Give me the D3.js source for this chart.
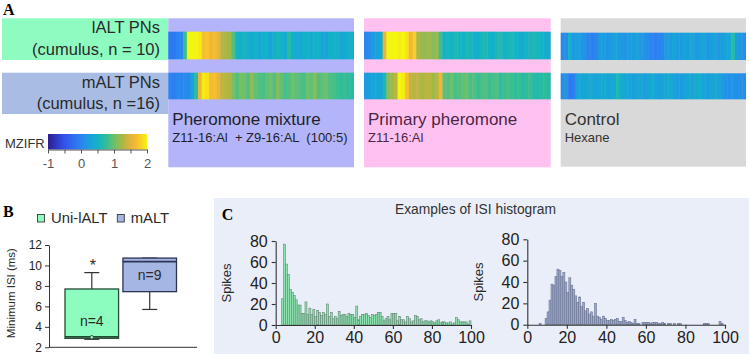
<!DOCTYPE html>
<html><head><meta charset="utf-8">
<script src="https://cdn.jsdelivr.net/npm/d3@7"></script>
<style>body{margin:0;background:#fff}svg{display:block}</style>
</head><body><svg id="c" width="749" height="354"></svg>
<script>
// ---------------- DATA ----------------
const rowLabels = [["lALT PNs", "(cumulus, n = 10)"], ["mALT PNs", "(cumulus, n =16)"]];
const stimTitles = ["Pheromone mixture", "Primary pheromone", "Control"];
const stimSubs = ["Z11-16:Al  + Z9-16:AL  (100:5)", "Z11-16:Al", "Hexane"];
// MZIFR heatmap strips (time bins), lALT row then mALT row
const mixL = [-0.1,-0.1,0.0,0.05,0.8,2.0,2.0,2.0,1.95,1.7,1.75,1.6,1.65,1.55,1.3,1.25,1.2,0.9,
  0.5,0.45,0.55,0.45,0.4,0.5,0.35,0.45,0.5,0.3,0.45,0.55,0.5,0.4,0.7,0.45,0.4,0.35,0.45,0.5,0.4,0.45,0.5,0.35,0.3,0.45,0.5,0.45,0.35,0.4,0.5,0.45];
const mixM = [0.0,-0.05,0.05,0.0,0.1,0.05,0.3,0.75,1.6,1.95,1.9,1.65,1.7,1.55,1.35,1.3,1.25,1.05,
  0.9,1.05,1.0,0.9,1.15,0.95,0.9,0.85,0.95,1.0,0.9,1.1,0.95,0.85,0.9,1.0,0.95,0.9,0.85,1.0,0.95,1.1,0.9,0.95,1.0,0.9,0.85,0.8,0.75,0.8,0.75,0.7];
const priL = [0.05,0.1,0.2,0.3,0.4,1.55,2.0,2.0,2.0,1.95,2.0,1.9,1.6,1.8,1.25,1.2,1.15,1.2,1.1,1.2,0.8,
  0.5,0.55,0.5,0.6,0.55,0.5,0.6,0.55,0.5,0.45,0.55,0.6,0.5,0.45,0.6,0.65,0.5,0.55,0.6,0.5,0.45,0.4,0.5,0.55,0.6,0.55,0.5,0.45,0.4];
const priM = [0.2,0.25,0.3,0.35,0.3,0.6,1.1,1.2,1.3,2.0,1.95,1.7,1.35,1.3,1.35,1.25,1.3,1.3,1.2,1.3,1.6,
  0.95,0.9,1.0,0.85,0.9,0.95,1.0,0.85,0.9,0.8,0.85,0.9,0.8,0.85,0.9,0.75,0.8,0.85,0.8,0.75,0.8,0.7,0.75,0.8,0.7,0.65,0.7,0.75,0.65];
const ctrlL = [0.05,0.1,0.5,0.2,0.25,0.2,0.15,0.0,-0.05,0.0,0.2,0.25,0.15,0.2,0.3,0.25,0.2,0.15,0.25,0.2,0.3,0.2,0.15,0.1,
  0.0,-0.05,0.0,0.05,0.25,0.2,0.3,0.25,0.2,0.3,0.25,0.35,0.2,0.25,0.3,0.2,0.25,0.3,0.2,0.25,0.3,0.35,0.7,0.25,0.2,0.1];
const ctrlM = [0.1,0.15,-0.1,-0.05,0.3,0.35,0.3,0.4,0.35,0.3,0.35,0.4,0.3,0.35,0.4,0.6,
  0.4,0.35,0.3,0.25,0.3,0.35,0.25,0.3,0.4,0.3,0.25,0.3,0.35,0.4,0.3,0.25,0.2,0.3,0.35,0.3,0.4,0.45,0.3,0.25,0.3,0.35,0.3,0.25,
  0.15,0.1,0.15,0.1,0.15,0.1];
const colorbarTicks = [-1, -0.5, 0, 0.5, 1, 1.5, 2];
const colorbarLabels = [-1, 0, 1, 2];

// Box plot (Minimum ISI, ms)
const boxGroups = ["Uni-lALT", "mALT"];
const boxMin = [2.78, 5.7];
const boxQ1 = [2.88, 7.44];
const boxMedian = [3.02, 10.37];
const boxQ3 = [7.7, 10.72];
const boxMax = [9.3, 10.72];
const boxMean = [2.98, null];
const boxN = [4, 9];
const boxYTicks = [2, 4, 6, 8, 10, 12];

// ISI histograms (1-ms bins)
const isiStartA = 3;
const isiCountsA = [25,77,58,48,34,31,28,24,19,19,
  11,11,22,10,16,10,15,8,14,12,
  9,12,10,20,8,12,6,8,6,13,
  9,10,10,8,11,10,10,7,18,5,
  8,10,10,11,9,7,10,9,10,12,
  12,8,4,6,8,5,11,11,11,4,
  8,5,5,3,8,6,3,4,9,8,
  5,6,3,4,4,3,4,3,2,4,
  5,2,3,3,2,2,3,1,2,7,
  5,3,3,3,3,1,4];
const isiStartB = 6;
const isiCountsB = [1,0,0,6,12,23,38,37,45,52,51,45,49,40,30,44,37,33,27,21,26,17,21,13,15,10,12,8,20,8,
  7,5,8,6,4,4,5,4,5,6,3,3,7,4,2,3,2,1,5,1,1,0,2,2,2,2,1,2,2,2,1,1,2,1,0,1,1,0,1,0,1,1,
  0,0,0,0,0,0,0,0,0,0,0,1,1,1,0,0,0,0,0,3,1,0];
const isiXTicks = [0, 20, 40, 60, 80, 100];
const isiYTicks = [0, 20, 40, 60, 80];

// ---------------- DRAW ----------------
const SANS = "'Liberation Sans', Arial, sans-serif";
const SERIF = "'Liberation Serif', 'Times New Roman', serif";
const svg = d3.select("#c");

const color = d3.scaleLinear()
  .domain([-1,-0.5,0,0.25,0.5,0.75,1,1.25,1.5,1.75,2])
  .range(["#2c1d8e","#3253f0","#2b84f0","#1a9fde","#12b3c6","#2ebd9a","#6cc16c","#aab742","#e4b23c","#fbc22d","#f5f60e"])
  .clamp(true);

// Panel A
svg.append("text").attr("x", 3).attr("y", 15).attr("font-family", SERIF).attr("font-weight", "bold")
  .attr("font-size", 16).text("A");

const labelFills = ["#8efcc0", "#a9bde4"];
const labelY = [[18.3, 60], [72.7, 114]];
labelY.forEach((yy, i) => {
  svg.append("rect").attr("x", 2).attr("y", yy[0]).attr("width", 166.3).attr("height", yy[1] - yy[0]).attr("fill", labelFills[i]);
  svg.append("text").attr("x", 160).attr("y", yy[0] + 15).attr("text-anchor", "end").attr("font-family", SANS)
    .attr("font-size", 16.5).attr("fill", "#2a2a2a").text(rowLabels[i][0]);
  svg.append("text").attr("x", 160).attr("y", yy[0] + 36.5).attr("text-anchor", "end").attr("font-family", SANS)
    .attr("font-size", 16.5).attr("fill", "#2a2a2a").text(rowLabels[i][1]);
});

const panelDefs = [
  {x0: 168.3, x1: 354, y0: 18.3, y1: 167.3, fill: "#b3b4fa", tc: "#1f1f2a", rows: [mixL, mixM], ry: [[31.7, 59.3], [72.7, 99.3]]},
  {x0: 364, x1: 550.7, y0: 18.3, y1: 167.3, fill: "#ffc2f0", tc: "#4a2648", rows: [priL, priM], ry: [[31.7, 59.3], [72.7, 99.3]]},
  {x0: 560.7, x1: 746, y0: 18.3, y1: 166.7, fill: "#d9d9d9", tc: "#333333", rows: [ctrlL, ctrlM], ry: [[32.7, 60], [73.3, 99.3]]}
];
panelDefs.forEach((p, pi) => {
  svg.append("rect").attr("x", p.x0).attr("y", p.y0).attr("width", p.x1 - p.x0).attr("height", p.y1 - p.y0).attr("fill", p.fill);
  p.rows.forEach((vals, ri) => {
    const xs = d3.scaleLinear().domain([0, vals.length]).range([p.x0, p.x1]);
    svg.append("g").selectAll("rect").data(vals).join("rect")
      .attr("x", (d, i) => xs(i)).attr("width", (d, i) => xs(i + 1) - xs(i) + (i < vals.length - 1 ? 0.4 : 0))
      .attr("y", p.ry[ri][0]).attr("height", p.ry[ri][1] - p.ry[ri][0])
      .attr("fill", d => color(d));
  });
  svg.append("text").attr("x", p.x0 + 4).attr("y", 125).attr("font-family", SANS).attr("font-size", 17)
    .attr("fill", p.tc).text(stimTitles[pi]);
  svg.append("text").attr("x", p.x0 + 4).attr("y", 142).attr("font-family", SANS).attr("font-size", 13)
    .attr("fill", p.tc).style("white-space", "pre").attr("xml:space", "preserve").text(stimSubs[pi]);
});

// Colorbar
const cbx = d3.scaleLinear().domain([-1, 2]).range([48, 147]);
const grad = svg.append("defs").append("linearGradient").attr("id", "cbg").attr("x1", "0").attr("x2", "1").attr("y1", "0").attr("y2", "0");
d3.range(0, 1.0001, 0.05).forEach(t => {
  grad.append("stop").attr("offset", t).attr("stop-color", color(-1 + 3 * t));
});
svg.append("rect").attr("x", cbx(-1)).attr("y", 134).attr("width", cbx(2) - cbx(-1)).attr("height", 15.5).attr("fill", "url(#cbg)");
const cbAxis = svg.append("g").attr("transform", "translate(0,149.5)")
  .call(d3.axisBottom(cbx).tickValues(colorbarTicks).tickSize(4).tickSizeOuter(0)
    .tickFormat(d => colorbarLabels.includes(d) ? String(d) : ""));
cbAxis.selectAll("path,line").attr("stroke", "#555");
cbAxis.selectAll("text").attr("font-family", SANS).attr("font-size", 13).attr("fill", "#555").attr("dy", "0.9em");
svg.append("text").attr("x", 5).attr("y", 148).attr("font-family", SANS).attr("font-size", 13).attr("fill", "#333").text("MZIFR");

// Panel B
svg.append("text").attr("x", 3).attr("y", 216.7).attr("font-family", SERIF).attr("font-weight", "bold")
  .attr("font-size", 16).text("B");
const boxFills = ["#8cfdbf", "#a5b6e4"];
const boxStroke = ["#244a34", "#2c3552"];
const legX = [37.5, 117.3];
boxGroups.forEach((g, i) => {
  svg.append("rect").attr("x", legX[i]).attr("y", 214.5).attr("width", 7).attr("height", 7.5)
    .attr("fill", boxFills[i]).attr("stroke", "#3a3a3a").attr("stroke-width", 0.9);
  svg.append("text").attr("x", legX[i] + 13.5).attr("y", 223).attr("font-family", SANS).attr("font-size", 14.8)
    .attr("fill", "#2a2a2a").text(g);
});
const yB = d3.scaleLinear().domain([2, 12]).range([347.3, 245]);
const xB = d3.scaleBand().domain(boxGroups).range([65, 176.5]).paddingInner(0.075).paddingOuter(0);
const axB = svg.append("g").attr("transform", "translate(49,0)")
  .call(d3.axisLeft(yB).tickValues(boxYTicks).tickSize(4).tickSizeOuter(0));
axB.selectAll("path,line").attr("stroke", "#333");
axB.selectAll("text").attr("font-family", SANS).attr("font-size", 12).attr("fill", "#222");
svg.append("line").attr("x1", 49).attr("x2", 197).attr("y1", yB(2)).attr("y2", yB(2)).attr("stroke", "#333");
svg.append("text").attr("transform", `translate(15,${yB(7.3)}) rotate(-90)`).attr("text-anchor", "middle")
  .attr("font-family", SANS).attr("font-size", 11.5).attr("fill", "#2a2a2a").text("Minimum ISI (ms)");

boxGroups.forEach((g, i) => {
  const x0 = xB(g), bw = xB.bandwidth(), cx = x0 + bw / 2, cap = 7.5;
  const gg = svg.append("g");
  gg.append("line").attr("x1", cx).attr("x2", cx).attr("y1", yB(boxQ3[i])).attr("y2", yB(boxMax[i])).attr("stroke", "#333").attr("stroke-width", 1.2);
  gg.append("line").attr("x1", cx - cap).attr("x2", cx + cap).attr("y1", yB(boxMax[i])).attr("y2", yB(boxMax[i])).attr("stroke", "#333").attr("stroke-width", 1.2);
  gg.append("line").attr("x1", cx).attr("x2", cx).attr("y1", yB(boxQ1[i])).attr("y2", yB(boxMin[i])).attr("stroke", "#333").attr("stroke-width", 1.2);
  gg.append("line").attr("x1", cx - cap).attr("x2", cx + cap).attr("y1", yB(boxMin[i])).attr("y2", yB(boxMin[i])).attr("stroke", "#333").attr("stroke-width", 1.2);
  gg.append("rect").attr("x", x0).attr("width", bw).attr("y", yB(boxQ3[i])).attr("height", yB(boxQ1[i]) - yB(boxQ3[i]))
    .attr("fill", boxFills[i]).attr("stroke", boxStroke[i]).attr("stroke-width", 1.3);
  gg.append("line").attr("x1", x0).attr("x2", x0 + bw).attr("y1", yB(boxMedian[i])).attr("y2", yB(boxMedian[i]))
    .attr("stroke", boxStroke[i]).attr("stroke-width", 1.8);
  if (boxMean[i] != null) {
    gg.append("circle").attr("cx", cx).attr("cy", yB(boxMean[i])).attr("r", 1.8).attr("fill", boxFills[i]).attr("stroke", "#333").attr("stroke-width", 0.8);
  }
  const ty = (yB(boxQ3[i]) + yB(boxQ1[i])) / 2 + (i === 0 ? 12 : 5);
  gg.append("text").attr("x", cx).attr("y", ty).attr("text-anchor", "middle").attr("font-family", SANS)
    .attr("font-size", 14).attr("fill", "#2a2a2a").text("n=" + boxN[i]);
});
svg.append("text").attr("x", xB(boxGroups[0]) + xB.bandwidth() / 2 + 1).attr("y", yB(boxMax[0]) - 1.5)
  .attr("text-anchor", "middle").attr("font-family", SANS).attr("font-size", 16).attr("fill", "#2a2a2a").text("*");

// Panel C
svg.append("rect").attr("x", 214).attr("y", 198).attr("width", 749 - 214).attr("height", 354 - 198).attr("fill", "#eaeef8");
svg.append("text").attr("x", 221.7).attr("y", 220).attr("font-family", SERIF).attr("font-weight", "bold")
  .attr("font-size", 16).text("C");
svg.append("text").attr("x", 395).attr("y", 213.5).attr("font-family", SANS).attr("font-size", 13.8)
  .attr("fill", "#333").text("Examples of ISI histogram");

const hists = [
  {start: isiStartA, counts: isiCountsA, xr: [275.7, 471], yr: [325, 241], fill: "#8ee2b0", stroke: "#668676", lab: 227},
  {start: isiStartB, counts: isiCountsB, xr: [527.3, 725], yr: [324.7, 239.3], fill: "#9ca9cf", stroke: "#6b7490", lab: 479}
];
hists.forEach(h => {
  const xs = d3.scaleLinear().domain([0, 100]).range(h.xr);
  const ys = d3.scaleLinear().domain([0, 80]).range(h.yr);
  const data = h.counts.map((c, i) => ({b: h.start + i, c})).filter(d => d.c > 0);
  svg.append("g").selectAll("rect").data(data).join("rect")
    .attr("x", d => xs(d.b)).attr("width", d => xs(d.b + 1) - xs(d.b))
    .attr("y", d => ys(d.c)).attr("height", d => ys(0) - ys(d.c))
    .attr("fill", h.fill).attr("stroke", h.stroke).attr("stroke-width", 0.6);
  const ax = svg.append("g").attr("transform", `translate(0,${ys(0)})`)
    .call(d3.axisBottom(xs).tickValues(isiXTicks).tickSize(4).tickSizeOuter(0));
  const ay = svg.append("g").attr("transform", `translate(${xs(0)},0)`)
    .call(d3.axisLeft(ys).tickValues(isiYTicks).tickSize(4).tickSizeOuter(0));
  [ax, ay].forEach(a => {
    a.selectAll("path,line").attr("stroke", "#333").attr("stroke-width", 1.1);
    a.selectAll("text").attr("font-family", SANS).attr("font-size", 16).attr("fill", "#222");
  });
  ay.selectAll("text").attr("x", -8);
  svg.append("text").attr("transform", `translate(${h.lab + 4},${ys(40)}) rotate(-90)`).attr("text-anchor", "middle")
    .attr("font-family", SANS).attr("font-size", 13).attr("fill", "#2a2a2a").text("Spikes");
});
</script></body></html>
